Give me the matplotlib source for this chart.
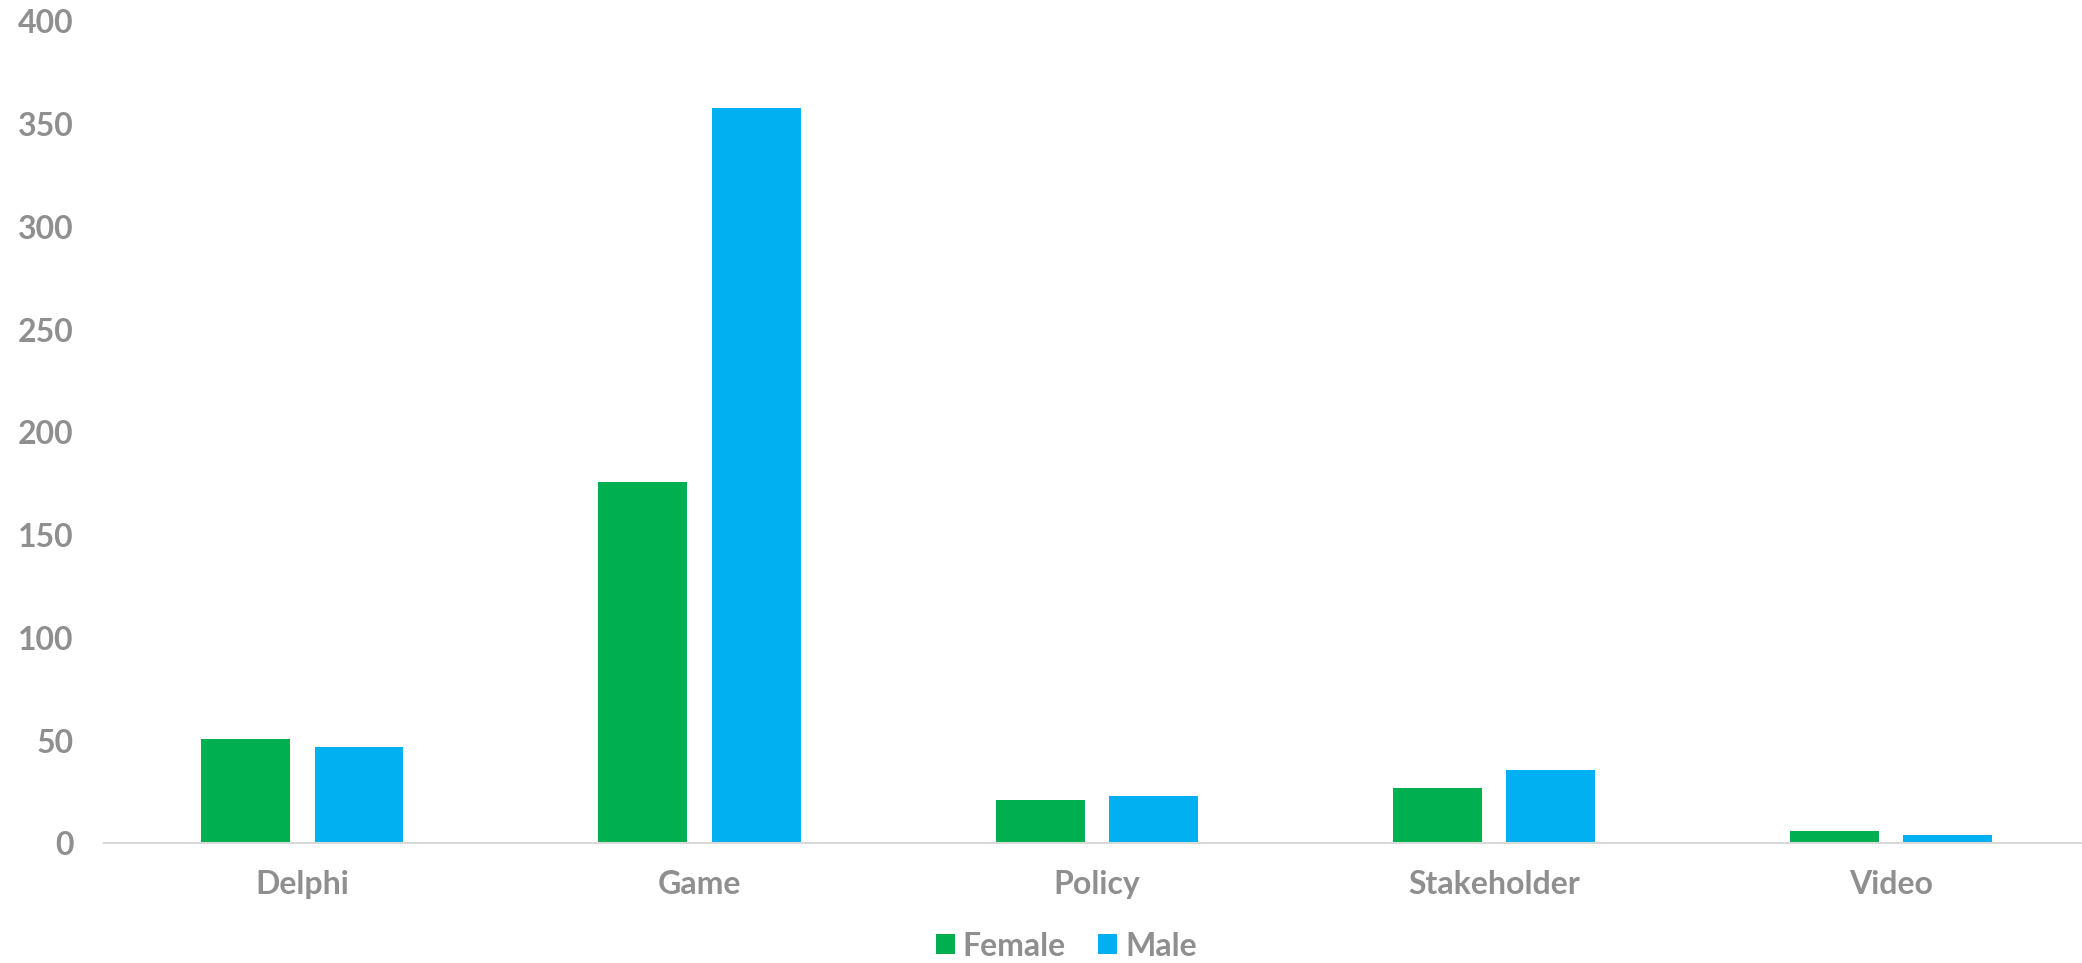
import numpy as np
import matplotlib.pyplot as plt

categories = ['Delphi', 'Game', 'Policy', 'Stakeholder', 'Video']
female = [51, 176, 21, 27, 6]
male = [47, 358, 23, 36, 4]
y_ticks = [0, 50, 100, 150, 200, 250, 300, 350, 400]

plt.rcParams['font.family'] = ['Lato', 'DejaVu Sans']
plt.rcParams['font.weight'] = 'bold'
grey = '#8f8f8f'

fig = plt.figure(figsize=(20.82, 9.63), dpi=100)
ax = fig.add_axes([0.04995, 0.1241, 0.95005, 0.8536])

x = np.arange(len(categories))
w = 0.224
ax.bar(x - 0.143, female, w, color='#00b050', label='Female')
ax.bar(x + 0.142, male, w, color='#00b0f0', label='Male')

ax.set_xlim(-0.5, 4.48)
ax.set_ylim(0, 400)
ax.set_yticks(y_ticks)
ax.set_xticks(x)
ax.set_xticklabels(categories)

for s in ['top', 'right', 'left']:
    ax.spines[s].set_visible(False)
ax.spines['bottom'].set_color('#d9d9d9')
ax.spines['bottom'].set_linewidth(1.5)

ax.tick_params(axis='both', length=0, labelsize=23, labelcolor=grey)
ax.tick_params(axis='x', pad=19)
ax.tick_params(axis='y', pad=22)
for lab in ax.get_xticklabels() + ax.get_yticklabels():
    lab.set_fontweight('bold')

fig.legend(loc='center', bbox_to_anchor=(1066 / 2082, 1 - 946 / 963), ncol=2,
           frameon=False, labelcolor=grey, handlelength=0.6,
           handleheight=0.6, handletextpad=0.25, columnspacing=1.0,
           prop={'weight': 'bold', 'size': 23})

fig.savefig('out.png', dpi=100)
